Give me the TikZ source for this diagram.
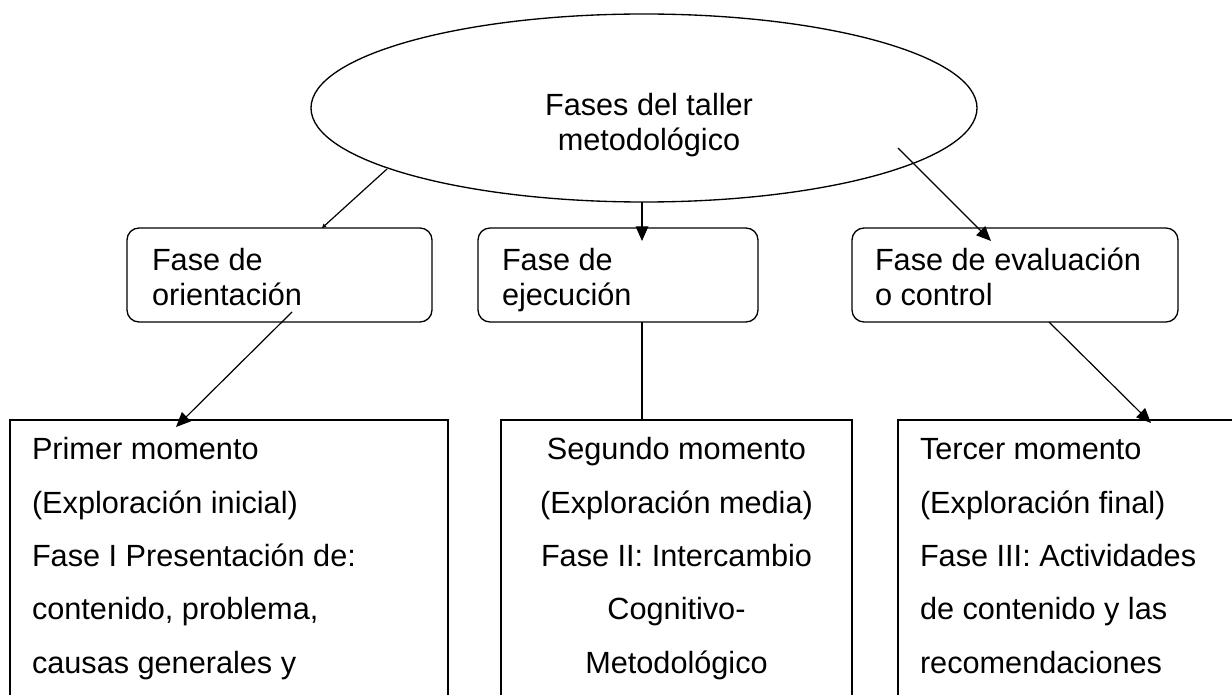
\documentclass[tikz,border=0pt]{standalone}
\usepackage{fontspec}
\setmainfont{Liberation Sans}
\usetikzlibrary{shapes.geometric,arrows.meta}
\begin{document}
\begin{tikzpicture}[x=0.75pt,y=-0.75pt,
  every node/.style={inner sep=0pt, outer sep=0pt},
  ln/.style={line width=0.9pt, draw=black},
  arr/.style={ln, -{Triangle[length=11pt,width=9.5pt]}},
  smallarr/.style={ln, -{Triangle[length=3pt,width=3pt]}},
  rbox/.style={draw, line width=1pt, rounded corners=9pt, rectangle, anchor=north west, minimum height=70.5pt},
  mbox/.style={draw, line width=0.9pt, rectangle, anchor=north west, minimum height=225pt},
  bigtxt/.style={font=\fontsize{23pt}{26.25pt}\selectfont},
  bodytxt/.style={font=\fontsize{23pt}{40pt}\selectfont}
]
\useasboundingbox (0,0) rectangle (1232,695);
\clip (0,0) rectangle (1232,695);
\fill[white] (0,0) rectangle (1232,695);

% top ellipse
\node[draw, ellipse, line width=1pt, minimum width=499.5pt, minimum height=141pt] (ell) at (644,108) {};
% base anchor of a multi-line node = baseline of its last line
\node[bigtxt, align=center, anchor=base] (ellt) at (649,151) {Fases del taller\\metodológico};

% phase boxes
\node[rbox, minimum width=228.75pt] (b1) at (127,228) {};
\node[rbox, minimum width=210pt] (b2) at (478,228) {};
\node[rbox, minimum width=244.5pt] (b3) at (852,228) {};
\node[bigtxt, align=left, anchor=base west] (t1) at (152,306) {Fase de\\orientación};
\node[bigtxt, align=left, anchor=base west] (t2) at (502,306) {Fase de\\ejecución};
\node[bigtxt, align=left, anchor=base west] (t3) at (875,306) {Fase de evaluación\\o control};

% moment boxes (open at the bottom of the picture)
\node[mbox, minimum width=328.5pt] (mA) at (10,420) {};
\node[mbox, minimum width=263.25pt] (mB) at (501,420) {};
\node[mbox, minimum width=300pt] (mC) at (898,420) {};
\node[bodytxt, align=left, anchor=base west] (tA) at (32,673) {Primer momento\\(Exploración inicial)\\Fase I Presentación de:\\contenido, problema,\\causas generales y};
\node[bodytxt, align=center, anchor=base] (tB) at (676.5,673) {Segundo momento\\(Exploración media)\\Fase II: Intercambio\\Cognitivo-\\Metodológico};
\node[bodytxt, align=left, anchor=base west] (tC) at (920,673) {Tercer momento\\(Exploración final)\\Fase III: Actividades\\de contenido y las\\recomendaciones};

% connector end points
\coordinate (a1s) at (387,169); \coordinate (a1e) at (322,228);
\coordinate (a2s) at (642,202); \coordinate (a2e) at (642,241);
\coordinate (a3s) at (898,148); \coordinate (a3e) at (991,241);
\coordinate (a4s) at (292,312); \coordinate (a4e) at (176,427);
\coordinate (a5s) at (642,322); \coordinate (a5e) at (642,420);
\coordinate (a6s) at (1049,322); \coordinate (a6e) at (1151,423);

\draw[smallarr] (a1s) -- (a1e);
\draw[arr] (a2s) -- (a2e);
\draw[arr] (a3s) -- (a3e);
\draw[arr] (a4s) -- (a4e);
\draw[ln] (a5s) -- (a5e);
\draw[arr] (a6s) -- (a6e);
\end{tikzpicture}
\end{document}
